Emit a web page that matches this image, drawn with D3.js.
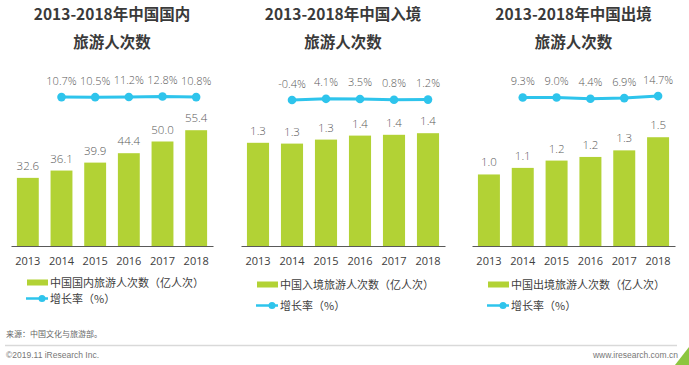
<!DOCTYPE html>
<html>
<head>
<meta charset="utf-8">
<script src="https://cdn.jsdelivr.net/npm/d3@7/dist/d3.min.js"></script>
<style>
html,body{margin:0;padding:0;background:#fff;}
svg{display:block;}
</style>
</head>
<body>
<svg id="chart" width="689" height="365"></svg>
<script>
// ---------- data ----------
const years = ["2013","2014","2015","2016","2017","2018"];
const growthYears = ["2014","2015","2016","2017","2018"];

const domesticTrips = [32.6, 36.1, 39.9, 44.4, 50.0, 55.4];
const domesticGrowth = [10.7, 10.5, 11.2, 12.8, 10.8];

const inboundTrips = [1.29, 1.28, 1.33, 1.38, 1.39, 1.41];
const inboundGrowth = [-0.4, 4.1, 3.5, 0.8, 1.2];

const outboundTrips = [0.98, 1.07, 1.17, 1.22, 1.31, 1.49];
const outboundGrowth = [9.3, 9.0, 4.4, 6.9, 14.7];

const titles1 = ["2013-2018年中国国内", "2013-2018年中国入境", "2013-2018年中国出境"];
const titles2 = ["旅游人次数", "旅游人次数", "旅游人次数"];
const barLegends = ["中国国内旅游人次数（亿人次）", "中国入境旅游人次数（亿人次）", "中国出境旅游人次数（亿人次）"];
const lineLegend = "增长率（%）";
const sourceText = "来源：中国文化与旅游部。";
const copyrightText = "©2019.11 iResearch Inc.";
const siteText = "www.iresearch.com.cn";

// ---------- layout ----------
const panels = [
  {x0: 11, x1: 213, yMax: 60, trips: domesticTrips, growth: domesticGrowth, legY: 282.5, lineY: 298.5},
  {x0: 241, x1: 445, yMax: 1.5, trips: inboundTrips, growth: inboundGrowth, legY: 284.5, lineY: 305.5},
  {x0: 472, x1: 675, yMax: 1.6, trips: outboundTrips, growth: outboundGrowth, legY: 284.5, lineY: 305.5}
];
const yHeights = [125.4, 120, 116.8];
const baseY = 246;
const barColor = "#b2d235";
const lineColor = "#2ec4ec";
const svg = d3.select("#chart");
const cjk = "'Noto Sans CJK SC','Noto Sans',sans-serif";
const num = "'Open Sans','Noto Sans',sans-serif";

const gy = d3.scaleLinear().domain([0, 20]).range([99.9, 94.7]);

panels.forEach((p, i) => {
  const g = svg.append("g");
  const cx = (p.x0 + p.x1) / 2;
  const x = d3.scaleBand().domain(years).range([p.x0, p.x1]).paddingInner(0.35).paddingOuter(0.175);
  const y = d3.scaleLinear().domain([0, p.yMax]).range([baseY, baseY - yHeights[i]]);

  // titles
  g.append("text").attr("x", cx).attr("y", 20).attr("text-anchor", "middle")
    .attr("font-family", cjk).attr("font-weight", "bold").attr("font-size", 15.5)
    .attr("fill", "#3a3a3a").text(titles1[i]);
  g.append("text").attr("x", cx).attr("y", 48).attr("text-anchor", "middle")
    .attr("font-family", cjk).attr("font-weight", "bold").attr("font-size", 15.5)
    .attr("fill", "#3a3a3a").text(titles2[i]);

  // bars
  g.selectAll("rect.bar").data(p.trips).join("rect").attr("class", "bar")
    .attr("x", (d, j) => x(years[j])).attr("width", x.bandwidth())
    .attr("y", d => y(d)).attr("height", d => baseY - y(d)).attr("fill", barColor);

  g.selectAll("text.val").data(p.trips).join("text").attr("class", "val")
    .attr("x", (d, j) => x(years[j]) + x.bandwidth() / 2).attr("y", d => y(d) - 8)
    .attr("text-anchor", "middle").attr("font-family", num).attr("font-size", 11.5)
    .attr("font-weight", 300).attr("fill", "#5a5a5a").text(d => d.toFixed(1));

  // axis
  const axis = d3.axisBottom(x).tickSize(0).tickPadding(11);
  const ag = g.append("g").attr("transform", `translate(0,${baseY})`).call(axis);
  ag.select(".domain").attr("stroke", "#595959").attr("stroke-width", 1.2);
  ag.selectAll("text").attr("font-family", num).attr("font-size", 11).attr("fill", "#404040");

  // growth line
  const lx = d => x(d) + x.bandwidth() / 2;
  const line = d3.line().x((d, j) => lx(growthYears[j])).y(d => gy(d));
  g.append("path").datum(p.growth).attr("d", line).attr("fill", "none")
    .attr("stroke", lineColor).attr("stroke-width", 3);
  g.selectAll("circle.pt").data(p.growth).join("circle").attr("class", "pt")
    .attr("cx", (d, j) => lx(growthYears[j])).attr("cy", d => gy(d)).attr("r", 4.3)
    .attr("fill", lineColor);
  g.selectAll("text.gr").data(p.growth).join("text").attr("class", "gr")
    .attr("x", (d, j) => lx(growthYears[j])).attr("y", d => gy(d) - 12.5)
    .attr("text-anchor", "middle").attr("font-family", num).attr("font-size", 11)
    .attr("font-weight", 300).attr("fill", "#5a5a5a").text(d => d.toFixed(1) + "%");

  // legend
  const lx0 = p.x0 + 16;
  g.append("rect").attr("x", lx0).attr("y", p.legY - 3).attr("width", 21).attr("height", 6).attr("fill", barColor);
  g.append("text").attr("x", lx0 + 23).attr("y", p.legY + 4).attr("font-family", cjk)
    .attr("font-size", 11).attr("fill", "#404040").text(barLegends[i]);
  g.append("line").attr("x1", lx0 - 1).attr("x2", lx0 + 21).attr("y1", p.lineY).attr("y2", p.lineY)
    .attr("stroke", lineColor).attr("stroke-width", 2.5);
  g.append("circle").attr("cx", lx0 + 15).attr("cy", p.lineY).attr("r", 3.5).attr("fill", lineColor);
  g.append("text").attr("x", lx0 + 23).attr("y", p.lineY + 4).attr("font-family", cjk)
    .attr("font-size", 11).attr("fill", "#404040").text(lineLegend);
});

// footer
svg.append("text").attr("x", 6).attr("y", 337).attr("font-family", cjk).attr("font-size", 8)
  .attr("fill", "#666").text(sourceText);
svg.append("line").attr("x1", 5).attr("x2", 677).attr("y1", 345.5).attr("y2", 345.5)
  .attr("stroke", "#d9d9d9").attr("stroke-width", 1.5);
svg.append("text").attr("x", 6).attr("y", 358).attr("font-family", "'Liberation Sans',sans-serif").attr("font-size", 8.5)
  .attr("fill", "#777").text(copyrightText);
svg.append("text").attr("x", 678).attr("y", 358).attr("text-anchor", "end").attr("font-family", "'Liberation Sans',sans-serif").attr("font-size", 8.5)
  .attr("fill", "#777").text(siteText);
svg.append("path").attr("d", "M689,347 L689,365 L675,365 Z").attr("fill", "#8cc63f");
</script>
</body>
</html>
